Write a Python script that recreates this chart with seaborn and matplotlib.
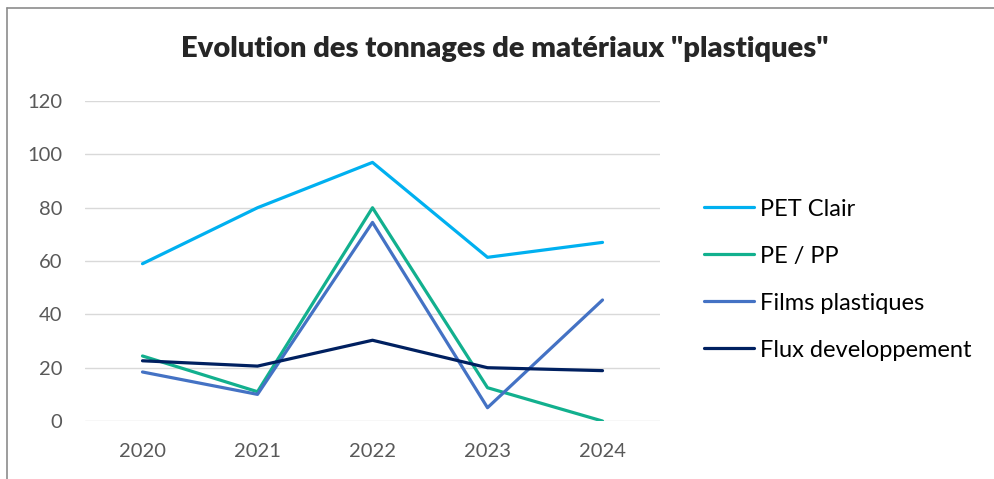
import matplotlib
matplotlib.use("Agg")
import matplotlib.pyplot as plt
import pandas as pd
import seaborn as sns
from matplotlib.lines import Line2D

years = ["2020", "2021", "2022", "2023", "2024"]
pet_clair = [59, 80, 97, 61.4, 67]
pe_pp = [24.4, 11, 80, 12.5, 0]
films = [18.4, 10, 74.5, 5, 45.4]
flux = [22.6, 20.6, 30.3, 20, 18.9]

series = ["PET Clair", "PE / PP", "Films plastiques", "Flux developpement"]
colors = ["#00B0F0", "#12B08E", "#4472C4", "#002060"]

df = pd.DataFrame({
    "annee": years * 4,
    "valeur": pet_clair + pe_pp + films + flux,
    "serie": [s for s in series for _ in years],
})

sns.set_theme(style="white")
plt.rcParams["font.family"] = ["Lato", "DejaVu Sans"]

fig = plt.figure(figsize=(9.94, 4.79), dpi=100)
ax = fig.add_axes([0.0855, 0.121, 0.5785, 0.668])

sns.lineplot(data=df, x="annee", y="valeur", hue="serie", hue_order=series,
             palette=colors, linewidth=2.3, sort=False, ax=ax)

ax.set_xlim(-0.5, 4.5)
ax.set_ylim(0, 120)
ax.set_yticks(range(0, 121, 20))
ax.grid(axis="y", color="#D9D9D9", linewidth=1)
ax.set_axisbelow(True)
for s in ax.spines.values():
    s.set_visible(False)
ax.tick_params(axis="both", length=0, labelsize=14.5, colors="#595959")
ax.tick_params(axis="y", pad=16.5)
ax.tick_params(axis="x", pad=16)
ax.set_xlabel("")
ax.set_ylabel("")

leg = ax.legend(loc="center left", bbox_to_anchor=(1.04, 0.442), frameon=False,
                fontsize=17, handlelength=2.1, handletextpad=0.25,
                labelspacing=1.1)
for t in leg.get_texts():
    t.set_color("#000000")

fig.text(0.508, 0.897, 'Evolution des tonnages de matériaux "plastiques"',
         ha="center", va="center", fontsize=21, fontweight="heavy")

# chart frame
fig.add_artist(Line2D([0.007, 1.0], [0.983, 0.983], transform=fig.transFigure,
                      color="#8C8C8C", linewidth=1.2))
fig.add_artist(Line2D([0.007, 0.007], [0.0, 0.983], transform=fig.transFigure,
                      color="#8C8C8C", linewidth=1.2))

fig.savefig("out.png", dpi=100, facecolor="white")
